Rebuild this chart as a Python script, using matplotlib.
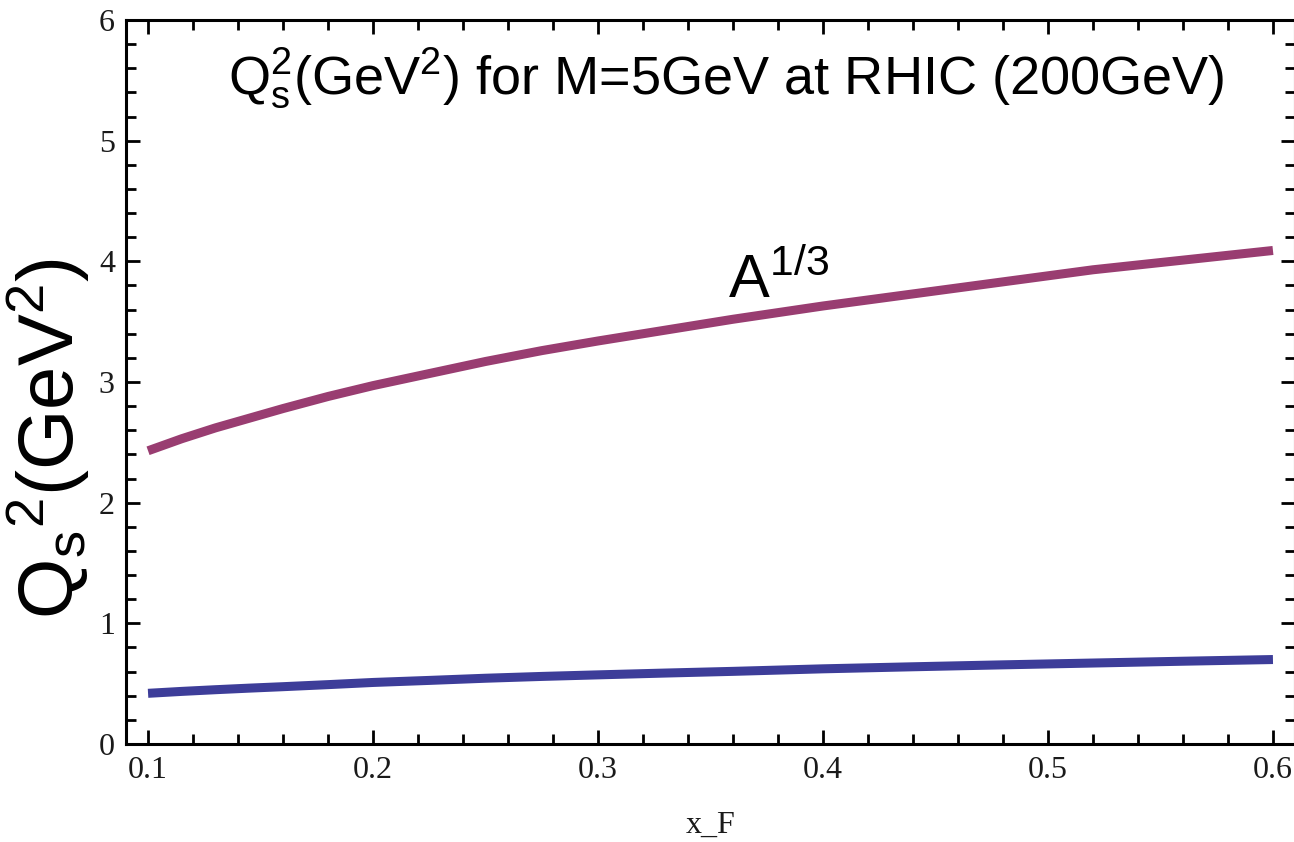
import matplotlib

matplotlib.use("Agg")
import matplotlib.pyplot as plt
from matplotlib.ticker import MultipleLocator

plt.rcParams["mathtext.fontset"] = "custom"
plt.rcParams["mathtext.rm"] = "Liberation Sans"
plt.rcParams["mathtext.it"] = "Liberation Sans:italic"

# values
x_f = [0.10, 0.115, 0.13, 0.145, 0.16, 0.18, 0.20, 0.225, 0.25, 0.275, 0.30, 0.33, 0.36,
       0.40, 0.44, 0.48, 0.52, 0.56, 0.60]
qs2_scaled = [2.43, 2.53, 2.62, 2.70, 2.78, 2.88, 2.97, 3.07, 3.17, 3.26, 3.34, 3.43, 3.52,
              3.63, 3.73, 3.83, 3.93, 4.01, 4.09]
qs2_min = [0.42, 0.436, 0.450, 0.463, 0.475, 0.492, 0.51, 0.527, 0.545, 0.560, 0.573, 0.588, 0.602,
           0.623, 0.640, 0.656, 0.671, 0.686, 0.70]

x_ticks = [0.1, 0.2, 0.3, 0.4, 0.5, 0.6]
y_ticks = [0, 1, 2, 3, 4, 5, 6]

purple = "#993D71"
blue = "#3D3D99"

figure = plt.figure(figsize=(12.94, 8.42), dpi=100)
axis = figure.add_axes([126 / 1294, 1 - 744 / 842, 1169 / 1294, 724 / 842])

axis.plot(x_f, qs2_scaled, color=purple, linewidth=6.5, solid_capstyle="butt")
axis.plot(x_f, qs2_min, color=blue, linewidth=6.5, solid_capstyle="butt")

axis.set_xlim(0.0902, 0.6098)
axis.set_ylim(0, 6)
axis.set_xticks(x_ticks, [f"{v:.1f}" for v in x_ticks])
axis.set_yticks(y_ticks, [str(v) for v in y_ticks])
axis.xaxis.set_minor_locator(MultipleLocator(0.02))
axis.yaxis.set_minor_locator(MultipleLocator(0.2))
axis.tick_params(which="both", direction="in", top=True, right=True, width=2, color="black")
axis.tick_params(which="major", length=10)
axis.tick_params(which="minor", length=7)
axis.tick_params(axis="x", pad=9)
axis.tick_params(axis="y", pad=8)
for label in axis.get_xticklabels() + axis.get_yticklabels():
    label.set_fontfamily("Liberation Serif")
    label.set_fontsize(23)
    label.set_color("#1a1a1a")
for spine in axis.spines.values():
    spine.set_linewidth(2.2)

axis.set_xlabel("x_F", fontfamily="Liberation Serif", fontsize=23, labelpad=18, color="#1a1a1a")

figure.text(48 / 1294, 1 - 438 / 842, r"Q$_\mathregular{s}$$^\mathregular{2}$(GeV$^\mathregular{2}$)",
            rotation=90, ha="center", va="center", fontfamily="Liberation Sans", fontsize=56)

axis.text(0.1356, 5.38, r"Q$_\mathregular{s}^\mathregular{2}$(GeV$^\mathregular{2}$) for M=5GeV at RHIC (200GeV)",
          ha="left", va="baseline", fontfamily="Liberation Sans", fontsize=39)
axis.text(0.3578, 3.70, r"A$^\mathregular{1/3}$", ha="left", va="baseline",
          fontfamily="Liberation Sans", fontsize=44)

figure.savefig("out.png", dpi=100)
plt.close(figure)
